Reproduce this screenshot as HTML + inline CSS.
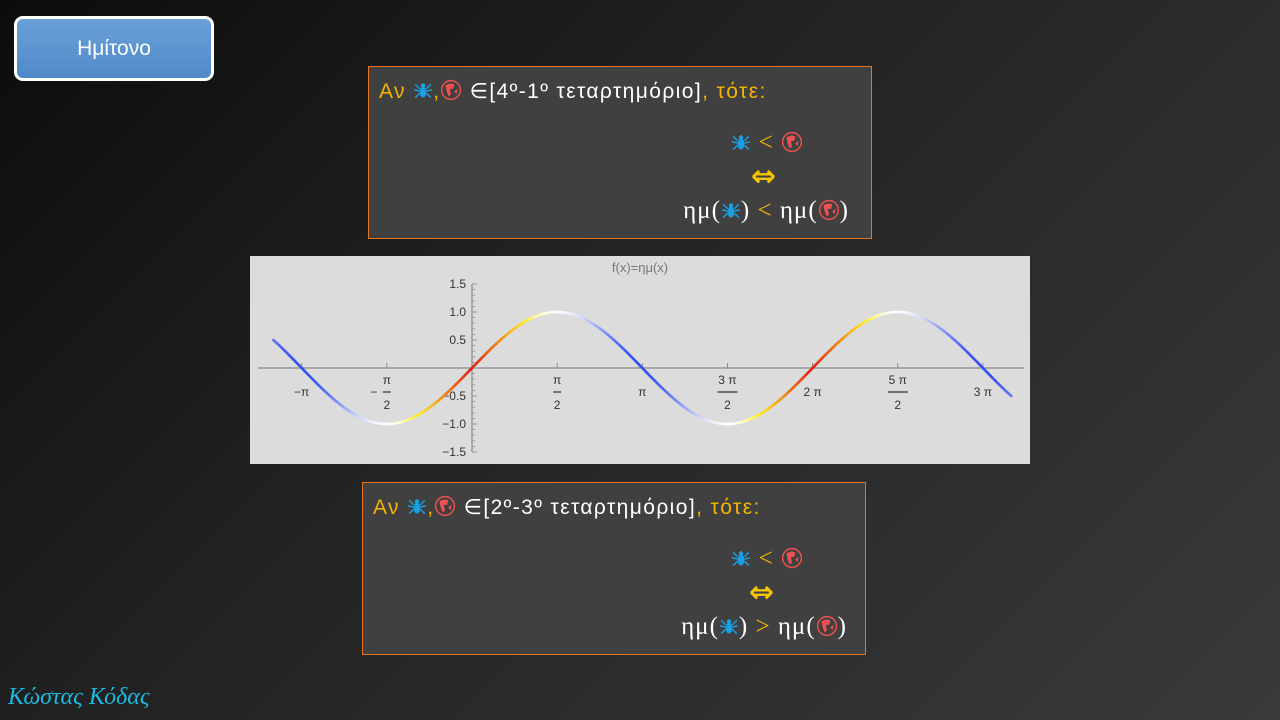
<!DOCTYPE html>
<html><head><meta charset="utf-8"><style>
body{margin:0;width:1280px;height:720px;overflow:hidden;background:linear-gradient(135deg,#0c0c0c 0%,#222 40%,#3a3a3a 100%);font-family:"Liberation Sans","DejaVu Sans",sans-serif;position:relative}
.btn{position:absolute;left:14px;top:16px;width:194px;height:59px;border:3px solid #fff;border-radius:9px;background:linear-gradient(#6aa0d8,#4f8ac8);color:#fff;font-size:21px;display:flex;align-items:center;justify-content:center}
.box{position:absolute;width:502px;height:171px;background:#404040;border:1px solid #e8731e}
.hd{position:absolute;left:10px;top:12px;font-size:21px;color:#fff;white-space:nowrap;letter-spacing:1.4px}
.y{color:#f5b400}
.r{position:absolute;right:22px;font-family:"Liberation Serif","DejaVu Serif",serif;font-size:25px;color:#fff;white-space:nowrap;text-align:right;letter-spacing:1px}
.lt{color:#f5b400}
.arr{color:#f5c400;font-size:30px;font-weight:bold;font-family:"DejaVu Sans",sans-serif}
.sig{position:absolute;left:8px;top:684px;font-family:"Liberation Serif",serif;font-style:italic;font-size:24px;color:#1cb8e0}
svg.ic{vertical-align:-3px}
</style></head><body>
<div class="btn">Ημίτονο</div>

<div class="box" style="left:368px;top:66px">
 <div class="hd"><span class="y">Αν</span> <span class="sp"></span><span class="y">,</span><span class="gl"></span> ∈[4º-1º τεταρτημόριο]<span class="y">, τότε:</span></div>
 <div class="r" style="top:62px;right:68px"><span class="sp"></span> <span class="lt">&lt;</span> <span class="gl"></span></div>
 <div class="r arr" style="top:92px;right:94px">⇔</div>
 <div class="r" style="top:130px">ημ(<span class="sp"></span>) <span class="lt">&lt;</span> ημ(<span class="gl"></span>)</div>
</div>

<div class="box" style="left:362px;top:482px">
 <div class="hd"><span class="y">Αν</span> <span class="sp"></span><span class="y">,</span><span class="gl"></span> ∈[2º-3º τεταρτημόριο]<span class="y">, τότε:</span></div>
 <div class="r" style="top:62px;right:62px"><span class="sp"></span> <span class="lt">&lt;</span> <span class="gl"></span></div>
 <div class="r arr" style="top:92px;right:90px">⇔</div>
 <div class="r" style="top:130px;right:18px">ημ(<span class="sp"></span>) <span class="lt">&gt;</span> ημ(<span class="gl"></span>)</div>
</div>

<svg id="chart" style="position:absolute;left:250px;top:256px" width="780" height="208"></svg>
<div class="sig">Κώστας Κόδας</div>

<script>
const spider='<svg class="ic" width="20" height="20" viewBox="0 0 18 18"><g stroke="#1aa0e0" stroke-width="1.3" fill="none"><path d="M6 7 L2 3 M6 9 L1 8 M6 11 L2 15 M12 7 L16 3 M12 9 L17 8 M12 11 L16 15"/></g><ellipse cx="9" cy="10" rx="3" ry="5" fill="#1aa0e0"/><circle cx="9" cy="4" r="2" fill="#1aa0e0"/></svg>';
const globe='<svg class="ic" width="22" height="22" viewBox="0 0 20 20"><circle cx="10" cy="10" r="8.5" fill="none" stroke="#f05050" stroke-width="1.3"/><path d="M5 6 Q9 3 13 5 L12 9 L9 9 L10 14 L8 16 L6 11 Z M13 11 L16 9 L15 14 Z" fill="#f05050"/></svg>';
document.querySelectorAll('.sp').forEach(e=>{e.innerHTML=spider;});
document.querySelectorAll('.gl').forEach(e=>{e.innerHTML=globe;});

const xTickUnits=[-2,-1,1,2,3,4,5,6]; // in units of pi/2
const xTickLabels=[['−π'],['π','2',true],['π','2'],['π'],['3 π','2'],['2 π'],['5 π','2'],['3 π']];
const yTicks=[-1.5,-1.0,-0.5,0.5,1.0,1.5];
const xDomain=[-7*Math.PI/6, 3*Math.PI+Math.PI/6];

const NS='http://www.w3.org/2000/svg';
const svg=document.getElementById('chart');
const X0=222, PX=170.3/Math.PI, Y0=112, PY=56;
const sx=x=>X0+x*PX, sy=y=>Y0-y*PY;
function mk(t,a){const e=document.createElementNS(NS,t);for(const k in a)e.setAttribute(k,a[k]);svg.appendChild(e);return e;}
const bg=mk('rect',{x:0,y:0,width:780,height:208,fill:'#dcdcdc'});

const ttl=mk('text',{x:390,y:16,'text-anchor':'middle','font-size':13,fill:'#777','font-family':'Liberation Sans'});
ttl.textContent='f(x)=ημ(x)';

const xa=mk('line',{x1:8,x2:774,y1:Y0,y2:Y0,stroke:'#888','stroke-width':1.2});

const ya=mk('line',{x1:X0,x2:X0,y1:sy(1.5),y2:sy(-1.5),stroke:'#888','stroke-width':1.2});

for(let v=-1.5;v<=1.5001;v+=0.1){const l=mk('line',{x1:X0,x2:X0+(Math.abs(v*2-Math.round(v*2))<0.01?5:3),y1:sy(v),y2:sy(v),stroke:'#999','stroke-width':1});
}
yTicks.forEach(v=>{const t=mk('text',{x:X0-6,y:sy(v)+4,'text-anchor':'end','font-size':12,fill:'#333','font-family':'Liberation Sans'});
t.textContent=(v<0?'−':'')+Math.abs(v).toFixed(1);
});
xTickUnits.forEach((u,i)=>{const x=sx(u*Math.PI/2);const l=mk('line',{x1:x,x2:x,y1:Y0-5,y2:Y0,stroke:'#888'});

const lab=xTickLabels[i];
const g=document.createElementNS(NS,'g');svg.appendChild(g);

function tx(s,y,dx){const t=document.createElementNS(NS,'text');t.setAttribute('x',x+(dx||0));t.setAttribute('y',y);t.setAttribute('text-anchor','middle');t.setAttribute('font-size',12);t.setAttribute('fill','#333');t.setAttribute('font-family','Liberation Sans');t.textContent=s;g.appendChild(t);}
if(lab.length===1){tx(lab[0],Y0+28);}else{
 tx(lab[0],Y0+16);const w=lab[0].length>1?20:8;
 const b=document.createElementNS(NS,'line');b.setAttribute('x1',x-w/2);b.setAttribute('x2',x+w/2);b.setAttribute('y1',Y0+24);b.setAttribute('y2',Y0+24);b.setAttribute('stroke','#333');b.setAttribute('stroke-width',1.2);g.appendChild(b);
 if(lab[2]){tx('−',Y0+28,-13);}
 tx(lab[1],Y0+41);}
});
function col(x){const c=Math.cos(x),s=Math.sin(x);
 if(c>0){
  const a=Math.abs(s);
  if(a<0.5){const t=a/0.5;return `rgb(${225+t*15},${30+t*110},${20})`;}
  if(a<0.85){const t=(a-0.5)/0.35;return `rgb(${240+t*15},${140+t*100},${20+t*20})`;}
  const t=(a-0.85)/0.15;return `rgb(255,${240+t*15},${40+t*215})`;}
 const a=Math.abs(s);const t=Math.pow(a,2);
 return `rgb(${50+t*200},${80+t*170},${240+t*15})`;}
const N=400;
for(let i=0;i<N;i++){const x1=xDomain[0]+(xDomain[1]-xDomain[0])*i/N,x2=xDomain[0]+(xDomain[1]-xDomain[0])*(i+1)/N;
 const l=mk('line',{x1:sx(x1),y1:sy(Math.sin(x1)),x2:sx(x2),y2:sy(Math.sin(x2)),stroke:col((x1+x2)/2),'stroke-width':2.6,'stroke-linecap':'round'});
 }
</script>
</body></html>
